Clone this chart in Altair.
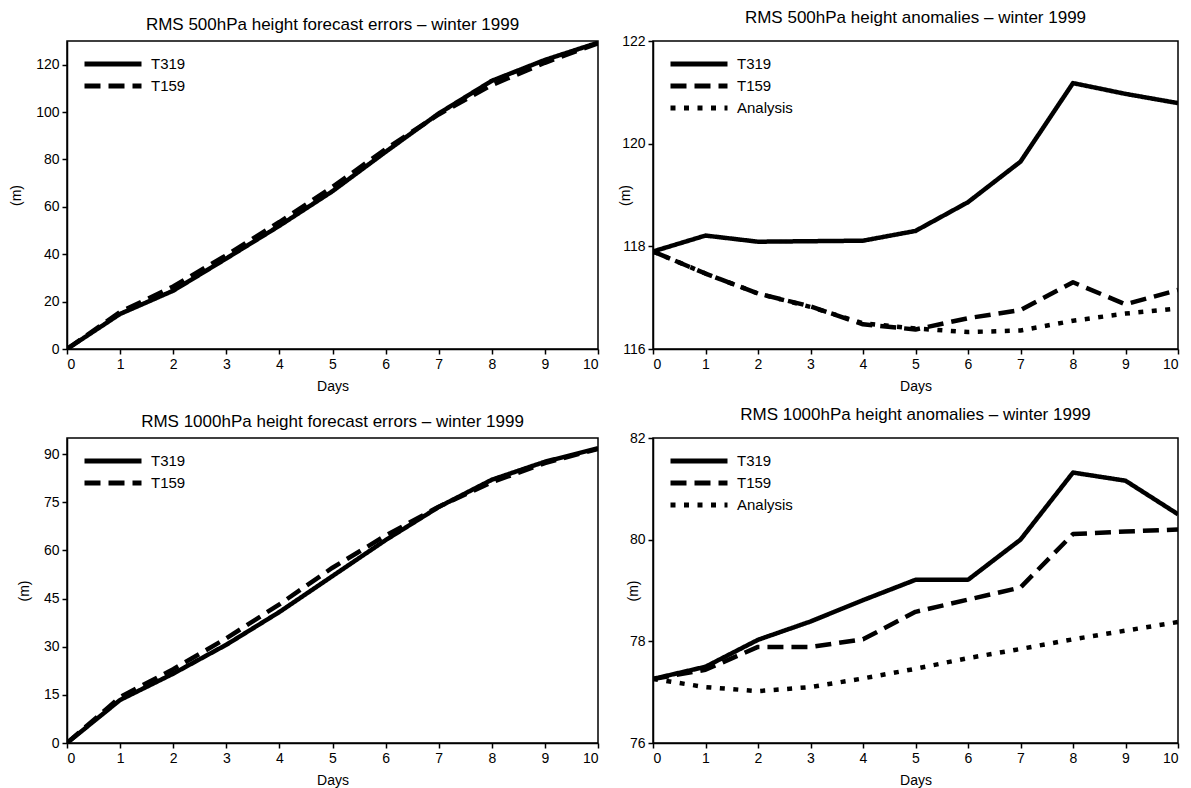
import altair as alt
import pandas as pd

# ---------------- data ----------------
days = list(range(11))

z500_err_t319 = [0, 14.8, 24.6, 38.2, 52.0, 66.6, 83.2, 99.4, 113.2, 122.0, 129.3]
z500_err_t159 = [0, 15.6, 26.4, 39.6, 53.6, 68.4, 84.4, 99.0, 111.4, 120.8, 129.0]

z1000_err_t319 = [0, 13.4, 21.6, 30.6, 40.8, 52.0, 63.2, 73.5, 82.0, 87.6, 91.8]
z1000_err_t159 = [0, 14.3, 23.0, 32.6, 43.2, 54.6, 64.6, 73.6, 81.2, 87.2, 91.6]

z500_anom_t319 = [117.9, 118.21, 118.09, 118.10, 118.11, 118.30, 118.86, 119.65, 121.18, 120.97, 120.79]
z500_anom_t159 = [117.9, 117.47, 117.08, 116.83, 116.48, 116.38, 116.60, 116.76, 117.30, 116.87, 117.15]
z500_anom_ana = [117.9, 117.47, 117.08, 116.82, 116.50, 116.40, 116.33, 116.36, 116.55, 116.69, 116.79]

z1000_anom_t319 = [77.26, 77.50, 78.03, 78.39, 78.81, 79.21, 79.21, 80.00, 81.32, 81.16, 80.50]
z1000_anom_t159 = [77.26, 77.44, 77.89, 77.89, 78.04, 78.58, 78.82, 79.06, 80.11, 80.16, 80.20]
z1000_anom_ana = [77.26, 77.10, 77.02, 77.10, 77.27, 77.46, 77.67, 77.85, 78.04, 78.21, 78.38]

titles = [
    "RMS 500hPa height forecast errors \u2013 winter 1999",
    "RMS 500hPa height anomalies \u2013 winter 1999",
    "RMS 1000hPa height forecast errors \u2013 winter 1999",
    "RMS 1000hPa height anomalies \u2013 winter 1999",
]

FONT = "Liberation Sans"
DASHES = {"T319": [1, 0], "T159": [16, 8], "Analysis": [5, 8.5]}


def frame(series_dict):
    rows = []
    for name, vals in series_dict.items():
        for d, v in zip(days, vals):
            rows.append({"day": d, "value": v, "series": name})
    return pd.DataFrame(rows)


def panel(series_dict, title, ydomain, yticks, width, height, title_pad):
    names = list(series_dict.keys())
    df = frame(series_dict)
    return (
        alt.Chart(df)
        .mark_line(stroke="black", strokeWidth=4.5, strokeJoin="round", clip=True)
        .encode(
            x=alt.X(
                "day:Q",
                scale=alt.Scale(domain=[0, 10], nice=False, zero=False),
                axis=alt.Axis(values=days, title="Days", format="d"),
            ),
            y=alt.Y(
                "value:Q",
                scale=alt.Scale(domain=ydomain, nice=False, zero=False),
                axis=alt.Axis(values=yticks, title="(m)", titlePadding=title_pad, format="d"),
            ),
            strokeDash=alt.StrokeDash(
                "series:N",
                scale=alt.Scale(domain=names, range=[DASHES[n] for n in names]),
                legend=alt.Legend(
                    title=None,
                    orient="none",
                    legendX=15,
                    legendY=11,
                    symbolType="M-1,0H5",
                    symbolSize=361,
                    symbolStrokeWidth=5,
                    symbolStrokeColor="black",
                    symbolFillColor="transparent",
                    labelFont=FONT,
                    labelFontSize=15,
                    labelColor="black",
                    labelOffset=45,
                    rowPadding=0,
                    padding=0,
                ),
            ),
        )
        .properties(width=width, height=height, title=title)
    )


p1 = panel({"T319": z500_err_t319, "T159": z500_err_t159}, titles[0],
           [0, 130], [0, 20, 40, 60, 80, 100, 120], 531, 308, 12)
p2 = panel({"T319": z500_anom_t319, "T159": z500_anom_t159, "Analysis": z500_anom_ana}, titles[1],
           [116, 122], [116, 118, 120, 122], 525, 308, -11)
p3 = panel({"T319": z1000_err_t319, "T159": z1000_err_t159}, titles[2],
           [0, 95], [0, 15, 30, 45, 60, 75, 90], 531, 305, 12)
p4 = panel({"T319": z1000_anom_t319, "T159": z1000_anom_t159, "Analysis": z1000_anom_ana}, titles[3],
           [76, 82], [76, 78, 80, 82], 525, 305, -11)

chart = (
    alt.concat(p1, p2, p3, p4, columns=2, spacing={"row": 11, "column": 17}, align="each")
    .resolve_scale(strokeDash="independent")
    .resolve_legend(strokeDash="independent")
    .properties(padding={"left": 0, "top": 0, "right": 0, "bottom": 0})
    .configure(background="white")
    .configure_view(stroke="black", strokeWidth=1.5)
    .configure_axis(
        grid=False,
        domainColor="black",
        domainWidth=1.5,
        tickColor="black",
        tickWidth=1.5,
        tickSize=5,
        labelFont=FONT,
        labelFontSize=14,
        labelColor="black",
        labelPadding=3,
        titleFont=FONT,
        titleFontSize=14,
        titleFontWeight="normal",
        titleColor="black",
    )
    .configure_axisX(titlePadding=8)
    .configure_title(font=FONT, fontSize=17, fontWeight="normal", color="black", offset=7, anchor="middle")
)

chart.save("out.html", embed_options={"renderer": "svg", "actions": False})
